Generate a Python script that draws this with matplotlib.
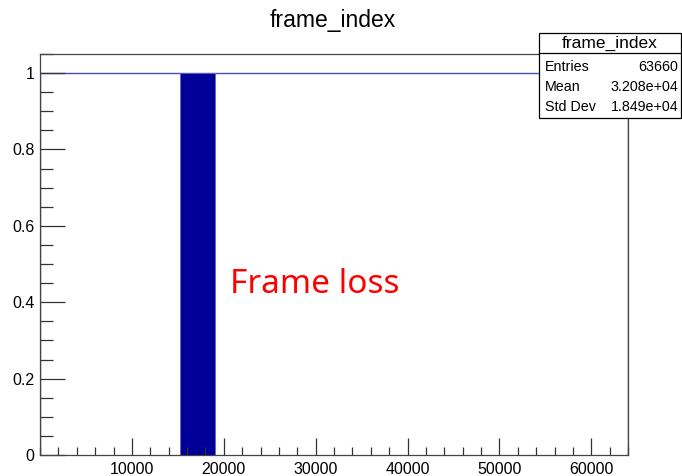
import matplotlib
matplotlib.use("Agg")
import matplotlib.pyplot as plt
import numpy as np
from matplotlib.ticker import MultipleLocator

# frame_index histogram: every frame counted once, except a stretch with dropped frames
x_min, x_max = 0, 64000
y_max = 1.05
level = 1.0
loss_window = [15200, 19000]   # region where frames go missing (dense 0/1 bins)
stats_labels = ["Entries", "Mean", "Std Dev"]
stats_values = ["63660", "3.208e+04", "1.849e+04"]

hist_color = "#000099"
line_color = "#4a4ac0"

fig = plt.figure(figsize=(6.82, 4.76), dpi=100)
ax = fig.add_axes([40 / 682, 21 / 476, 588 / 682, 401 / 476])

# outline of the histogram
edges = np.array([x_min, loss_window[0], loss_window[1], x_max])
counts = np.array([level, level, level])
ax.stairs(counts, edges, color=line_color, linewidth=1.0, baseline=0)
# the lost-frame stretch looks solid at this bin density
ax.fill_between(loss_window, 0, level, color=hist_color, linewidth=0.6,
                edgecolor="#6666cc")

ax.set_xlim(x_min, x_max)
ax.set_ylim(0, y_max)

ax.xaxis.set_major_locator(MultipleLocator(10000))
ax.xaxis.set_minor_locator(MultipleLocator(2000))
ax.yaxis.set_major_locator(MultipleLocator(0.2))
ax.yaxis.set_minor_locator(MultipleLocator(0.05))
ax.set_xticks([10000, 20000, 30000, 40000, 50000, 60000])
ax.set_yticks([0, 0.2, 0.4, 0.6, 0.8, 1])
ax.set_yticklabels(["0", "0.2", "0.4", "0.6", "0.8", "1"])
ax.tick_params(which="both", direction="in", top=False, right=False,
               color="#333333", width=0.9, labelsize=11.5)
ax.tick_params(axis="x", which="major", length=12, pad=5)
ax.tick_params(axis="x", which="minor", length=6)
ax.tick_params(axis="y", which="major", length=18, pad=4)
ax.tick_params(axis="y", which="minor", length=9)
for lbl in ax.get_xticklabels() + ax.get_yticklabels():
    lbl.set_family("Liberation Sans")
for sp in ax.spines.values():
    sp.set_color("#444444")
    sp.set_linewidth(0.9)

fig.text(333 / 682, 1 - 20 / 476, "frame_index", ha="center", va="center",
         fontsize=16.5, family="Liberation Sans")

ax.text(0.3235, 0.403, "Frame loss", transform=ax.transAxes, color="red",
        fontsize=24, family="Noto Sans", ha="left", va="baseline")

# statistics box
bx0, bx1 = 539 / 682, 681 / 682
by_top, by_bot = 1 - 33 / 476, 1 - 118 / 476
head = 1 - 53 / 476
box = plt.Rectangle((bx0, by_bot), bx1 - bx0, by_top - by_bot, transform=fig.transFigure,
                    facecolor="white", edgecolor="black", linewidth=0.9, zorder=5)
fig.add_artist(box)
fig.add_artist(plt.Line2D([bx0, bx1], [head, head], transform=fig.transFigure,
                          color="black", linewidth=0.9, zorder=6))
fig.text((bx0 + bx1) / 2, (by_top + head) / 2, "frame_index", ha="center", va="center",
         fontsize=12.5, family="Liberation Sans", zorder=7)
row_y = [67, 87, 107]
for lab, val, ry in zip(stats_labels, stats_values, row_y):
    fig.text(545 / 682, 1 - ry / 476, lab, ha="left", va="center",
             fontsize=10.3, family="Liberation Sans", zorder=7)
    fig.text(678 / 682, 1 - ry / 476, val, ha="right", va="center",
             fontsize=10.3, family="Liberation Sans", zorder=7)

fig.savefig("out.png", dpi=100)
